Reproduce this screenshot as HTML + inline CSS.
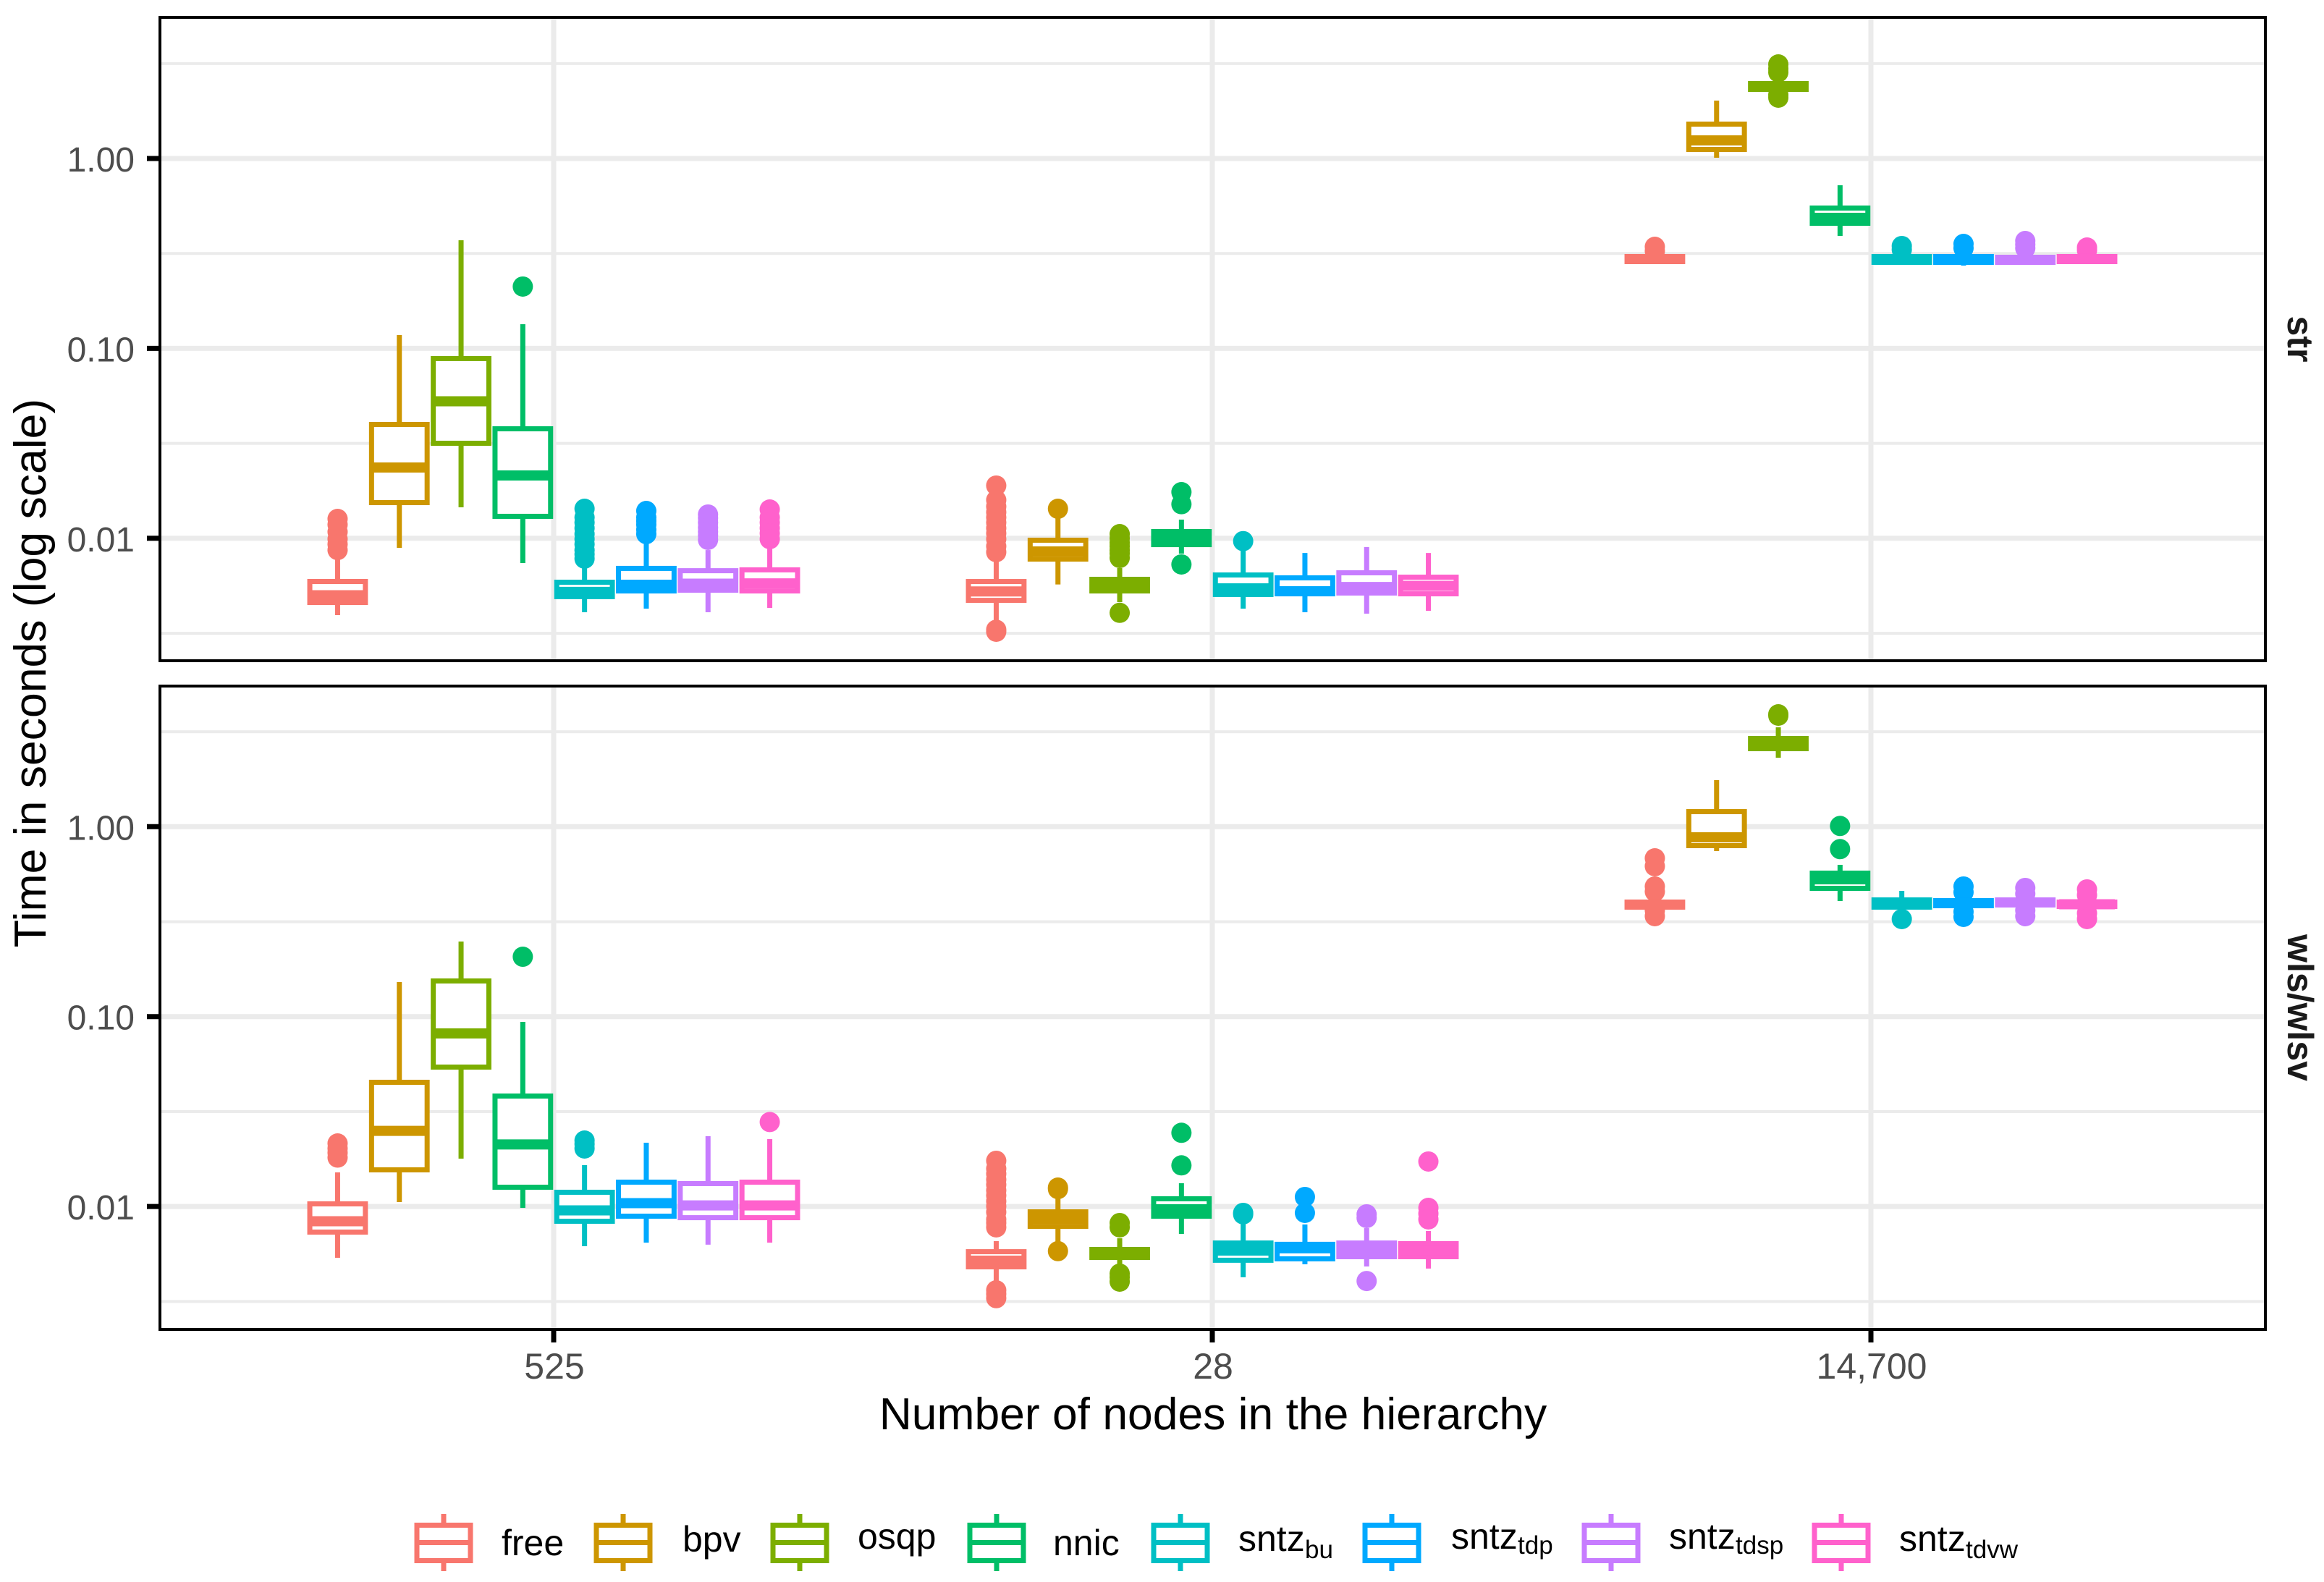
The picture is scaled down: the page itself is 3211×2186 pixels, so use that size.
<!DOCTYPE html>
<html lang="en">
<head>
<meta charset="utf-8">
<title>Time in seconds by number of nodes in the hierarchy</title>
<style>
html,body{margin:0;padding:0;background:#fff;}
svg{display:block;}
text{font-family:"Liberation Sans",sans-serif;}
</style>
</head>
<body>
<svg id="chart" xmlns="http://www.w3.org/2000/svg" width="3211" height="2186" viewBox="0 0 3211 2186">
  <rect x="0" y="0" width="3211" height="2186" fill="#ffffff"/>
  <text x="63" y="930" font-size="62.5" fill="#000" text-anchor="middle" transform="rotate(-90 63 930)">Time in seconds (log scale)</text>
  <text x="1676" y="1975" font-size="62.4" fill="#000" text-anchor="middle">Number of nodes in the hierarchy</text>
</svg>
<script>
// ---- Categories and labels ----
const methods = ['free','bpv','osqp','nnic','sntz_bu','sntz_tdp','sntz_tdsp','sntz_tdvw'];
const groups = ['525','28','14,700'];
const panels = ['str','wls/wlsv'];
const yTickValues = [0.01, 0.1, 1];
const yTickLabels = ['0.01','0.10','1.00'];
const yMinorValues = [0.00316, 0.0316, 0.316, 3.16];
const legendMain = ['free','bpv','osqp','nnic','sntz','sntz','sntz','sntz'];
const legendSub = ['','','','','bu','tdp','tdsp','tdvw'];

// ---- Series values, seconds: each row is [low whisker, Q1, median, Q3, high whisker] per method ----
const str525Stats = [
 [.003938,.004592,.005012,.005922,.007945],
 [.00891,.01541,.0236,.03976,.1175],
 [.01456,.03165,.05265,.0884,.3711],
 [.00741,.01305,.02142,.03772,.1341],
 [.00408,.00493,.00522,.00587,.00697],
 [.00426,.00528,.00569,.00694,.00947],
 [.00408,.00533,.00577,.00675,.00867],
 [.0043,.00528,.00579,.00682,.00907]
];
const str525Outliers = [
 [.01265,.01179,.0108,.0099,.0093,.00867],
 [],
 [],
 [.2116],
 [.0143,.01287,.0121,.01129,.01052,.0099,.0093,.00867,.00823,.00781],
 [.01393,.01287,.01232,.01179,.01109,.01052],
 [.01334,.01276,.0121,.01138,.0108,.01034,.00981],
 [.01418,.01287,.0121,.01129,.01061,.0099]
];
const str28Stats = [
 [.0037,.00471,.00525,.00592,.0076],
 [.00571,.00777,.00852,.00977,.01287],
 [.00461,.00528,.00569,.00608,.00697],
 [.0083,.00926,.01007,.01085,.01254],
 [.00426,.00506,.00545,.00641,.00867],
 [.00408,.0051,.00526,.00619,.00837],
 [.00401,.00515,.00554,.00658,.00899],
 [.00415,.0051,.00562,.00624,.00837]
];
const str28Outliers = [
 [.01895,.01589,.01469,.01369,.01287,.0121,.01129,.01061,.0099,.00907,.00845,.0033,.00322],
 [.0143],
 [.01052,.00998,.00947,.00907,.00867,.0083,.00788,.00405],
 [.0175,.01512,.00728],
 [.00966],
 [],
 [],
 []
];
const str14700Stats = [
 [.2802,.2864,.2954,.3046,.3168],
 [1.009,1.116,1.245,1.517,2.018],
 [2.203,2.312,2.394,2.48,2.603],
 [.3911,.456,.4869,.5483,.7227],
 [.2777,.2839,.294,.3046,.3168],
 [.2729,.2839,.294,.3046,.3168],
 [.2753,.2839,.2927,.3018,.3168],
 [.2802,.2864,.2954,.3046,.3168]
];
const str14700Outliers = [
 [.3428,.3253],
 [],
 [3.129,2.968,2.841,2.165,2.09],
 [],
 [.3459,.3309],
 [.355,.3369],
 [.3677,.3519,.3369],
 [.3398,.3281]
];
const wls525Stats = [
 [.00537,.00733,.00836,.01032,.01512],
 [.01055,.01559,.025,.04508,.152],
 [.01786,.0542,.0815,.154,.2485],
 [.00983,.01263,.02121,.03815,.0938],
 [.00618,.00836,.00954,.01188,.0165],
 [.00645,.00889,.01041,.01343,.02166],
 [.00629,.00873,.01013,.0132,.02344],
 [.00645,.00873,.01013,.01343,.02263]
];
const wls525Outliers = [
 [.02147,.0202,.01916,.01809],
 [],
 [],
 [.2066],
 [.02224,.02128,.0202],
 [],
 [],
 [.02784]
];
const wls28Stats = [
 [.00405,.00481,.00518,.00578,.00657],
 [.00651,.00786,.00862,.00937,.01112],
 [.00454,.00539,.00566,.00594,.0068],
 [.00717,.00889,.00966,.01098,.01326],
 [.00424,.00521,.00586,.00642,.00818],
 [.00496,.0053,.00602,.00632,.00804],
 [.00483,.00544,.00591,.00642,.00769],
 [.00471,.00544,.00589,.00637,.00743]
];
const wls28Outliers = [
 [.0174,.0158,.01485,.01385,.01303,.01214,.01142,.01064,.01001,.00933,.00855,.00818,.00776,.00362,.00346,.00329],
 [.01257,.01235,.00582],
 [.00818,.00776,.00443,.00424,.00402],
 [.02443,.01646],
 [.00925,.00909],
 [.01122,.00925],
 [.00909,.0087,.00405],
 [.01725,.00983,.00917,.00855]
];
const wls14700Stats = [
 [.3687,.377,.3888,.4009,.4097],
 [.7441,.7946,.879,1.2,1.758],
 [2.307,2.575,2.739,2.912,3.336],
 [.4061,.4735,.5284,.5692,.6298],
 [.3624,.377,.3937,.4115,.4592],
 [.3754,.3835,.3955,.4079,.4206],
 [.3786,.387,.399,.4115,.4243],
 [.372,.3802,.3904,.4009,.4097]
];
const wls14700Outliers = [
 [.6815,.6188,.4841,.4553,.3624,.3378],
 [],
 [3.906,3.839],
 [1.009,.762],
 [.3261],
 [.4841,.4512,.3561,.3348],
 [.4756,.4433,.3624,.3378],
 [.4674,.4356,.3499,.3261]
];
const panelStats = [[str525Stats,str28Stats,str14700Stats],[wls525Stats,wls28Stats,wls14700Stats]];
const panelOutliers = [[str525Outliers,str28Outliers,str14700Outliers],[wls525Outliers,wls28Outliers,wls14700Outliers]];

// ---- Styling and layout (separate from data) ----
const methodColors = ['#F8766D','#CD9600','#7CAE00','#00BE67','#00BFC4','#00A9FF','#C77CFF','#FF61CC'];
const frameLeft = 221, frameRight = 3130;
const panelTop = [24, 948], panelBottom = [913, 1837];
const yOne = [219, 1142.3], decade = 262.4;
const groupStart = 765, groupStep = 910, dodge = 85.3, boxW = 76.8;
const legendKeyX = [613,861,1105,1377,1631,1923,2226,2544];
const legendTextX = [693,943,1185,1455,1711,2005,2306,2624];
const legendBase = [2149,2144,2140,2149,2143,2140,2140,2143];
const legendSubBase = [0,0,0,0,2153,2147,2147,2153];

const NS = 'http://www.w3.org/2000/svg';
const svg = document.getElementById('chart');
function el(tag, attrs, parent){
  const e = document.createElementNS(NS, tag);
  for (const k in attrs) e.setAttribute(k, attrs[k]);
  parent.appendChild(e);
  return e;
}
function yScale(p, v){ return yOne[p] - decade * Math.log10(v); }
function xScale(g){ return groupStart + g * groupStep; }
function slug(s){ return s.replace(/[^a-z0-9]+/gi,'-').toLowerCase(); }

panels.forEach(function(panelName, p){
  const pg = el('g', {}, svg);
  
  

  yMinorValues.forEach(function(v){
    const y = yScale(p, v);
    if (y < panelTop[p] || y > panelBottom[p]) return;
    const l = el('line', {x1:frameLeft,x2:frameRight,y1:y,y2:y,stroke:'#ebebeb','stroke-width':4}, pg);
    
    
  });
  yTickValues.forEach(function(v){
    const y = yScale(p, v);
    const l = el('line', {x1:frameLeft,x2:frameRight,y1:y,y2:y,stroke:'#ebebeb','stroke-width':7}, pg);
    
    
  });
  groups.forEach(function(g, gi){
    const x = xScale(gi);
    const l = el('line', {x1:x,x2:x,y1:panelTop[p],y2:panelBottom[p],stroke:'#ebebeb','stroke-width':7}, pg);
    
    
  });

  groups.forEach(function(groupName, gi){
    methods.forEach(function(m, mi){
      const stats = panelStats[p][gi][mi];
      const outs = panelOutliers[p][gi][mi];
      const cx = xScale(gi) + (mi - 3.5) * dodge;
      const col = methodColors[mi];
      const bg = el('g', {}, pg);
      
      
      outs.forEach(function(v){
        const c = el('circle', {cx:cx,cy:yScale(p,v),r:14,fill:col}, bg);
        
        
      });
      const w1 = el('line', {x1:cx,x2:cx,y1:yScale(p,stats[4]),y2:yScale(p,stats[3]),stroke:col,'stroke-width':7}, bg);
      
      
      const w2 = el('line', {x1:cx,x2:cx,y1:yScale(p,stats[1]),y2:yScale(p,stats[0]),stroke:col,'stroke-width':7}, bg);
      
      
      const top = yScale(p,stats[3]), bot = yScale(p,stats[1]);
      const r = el('rect', {x:cx-boxW/2,y:top,width:boxW,height:bot-top,fill:'#ffffff',stroke:col,'stroke-width':7}, bg);
      
      
      const my = yScale(p,stats[2]);
      const med = el('line', {x1:cx-boxW/2,x2:cx+boxW/2,y1:my,y2:my,stroke:col,'stroke-width':14}, bg);
      
      
    });
  });

  const frame = el('rect', {x:frameLeft,y:panelTop[p],width:frameRight-frameLeft,height:panelBottom[p]-panelTop[p],fill:'none',stroke:'#000','stroke-width':4}, pg);
  
  

  yTickValues.forEach(function(v, i){
    const y = yScale(p, v);
    const t = el('line', {x1:frameLeft-18,x2:frameLeft,y1:y,y2:y,stroke:'#000','stroke-width':7}, pg);
    
    
    const lb = el('text', {x:186,y:y+18,'font-size':48,fill:'#4d4d4d','text-anchor':'end'}, pg);
    lb.textContent = yTickLabels[i];
    
    
  });

  const cy = (panelTop[p] + panelBottom[p]) / 2;
  const st = el('text', {x:3161,y:cy,'font-size':50,'font-weight':'bold',fill:'#1a1a1a','text-anchor':'middle',transform:'rotate(90 3161 '+cy+')'}, pg);
  st.textContent = panelName;
  
  
});

groups.forEach(function(g, gi){
  const x = xScale(gi);
  const t = el('line', {x1:x,x2:x,y1:panelBottom[1],y2:panelBottom[1]+18,stroke:'#000','stroke-width':7}, svg);
  
  
  const lb = el('text', {x:x+1,y:1905,'font-size':50,fill:'#4d4d4d','text-anchor':'middle'}, svg);
  lb.textContent = g;
  
  
});

const legend = el('g', {}, svg);


methods.forEach(function(m, i){
  const col = methodColors[i], kx = legendKeyX[i];
  const entry = el('g', {}, legend);
  
  
  const wh = el('line', {x1:kx,x2:kx,y1:2092,y2:2171,stroke:col,'stroke-width':7}, entry);
  
  
  const bx = el('rect', {x:kx-37,y:2107.5,width:74,height:49,fill:'#ffffff',stroke:col,'stroke-width':7}, entry);
  
  
  const md = el('line', {x1:kx-37,x2:kx+37,y1:2131.5,y2:2131.5,stroke:col,'stroke-width':7}, entry);
  
  
  const tx = el('text', {x:legendTextX[i],y:legendBase[i],'font-size':50,fill:'#000'}, entry);
  tx.textContent = legendMain[i];
  
  
  if (legendSub[i]) {
    const sb = el('text', {x:legendTextX[i]+92,y:legendSubBase[i],'font-size':35,fill:'#000'}, entry);
    sb.textContent = legendSub[i];
    
    
  }
});
</script>
</body>
</html>
